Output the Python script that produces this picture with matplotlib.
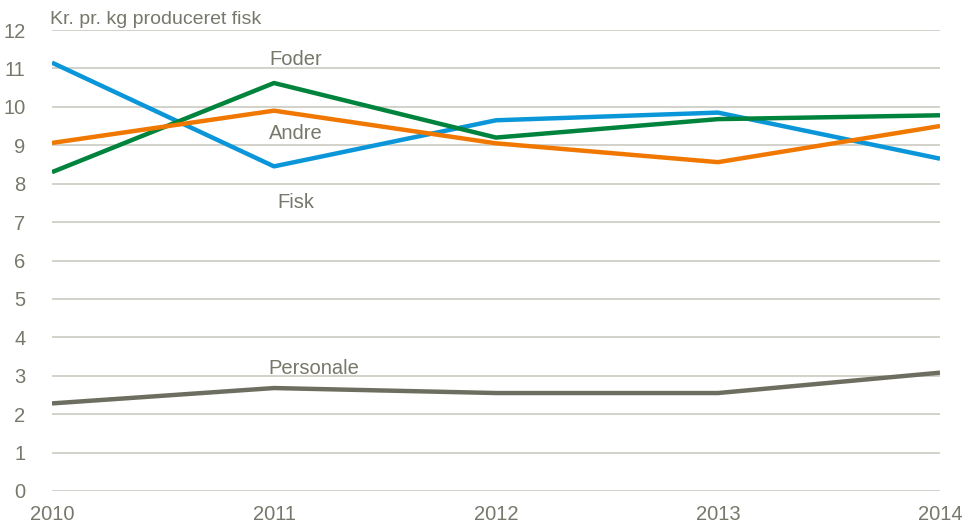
import matplotlib
matplotlib.use("Agg")
import matplotlib.pyplot as plt
from matplotlib import font_manager

years = [2010, 2011, 2012, 2013, 2014]
fisk = [11.15, 8.45, 9.65, 9.85, 8.65]
foder = [8.3, 10.62, 9.2, 9.68, 9.78]
andre = [9.06, 9.9, 9.05, 8.56, 9.5]
personale = [2.28, 2.68, 2.55, 2.55, 3.08]

names = {f.name for f in font_manager.fontManager.ttflist}
fam = ["Liberation Sans Narrow", "Liberation Sans", "DejaVu Sans"]
fam = [f for f in fam if f in names] + ["DejaVu Sans"]
plt.rcParams['font.family'] = fam

txt = "#77776b"
grid = "#cfcfc6"
fs = 14.5

fig = plt.figure(figsize=(9.69, 5.26), dpi=100)
ax = fig.add_axes([52/969, 1-491/526, (940-52)/969, (491-30)/526])

ax.plot(years, fisk, color="#0a96d8", lw=3.2, solid_capstyle="butt", zorder=3)
ax.plot(years, foder, color="#00843d", lw=3.2, solid_capstyle="butt", zorder=3)
ax.plot(years, andre, color="#f07800", lw=3.2, solid_capstyle="butt", zorder=3)
ax.plot(years, personale, color="#6e6e60", lw=3.2, solid_capstyle="butt", zorder=3)

ax.set_xlim(2010, 2014)
ax.set_ylim(0, 12)
ax.set_yticks(range(0, 13))
ax.set_xticks(years)
ax.set_xticklabels([str(y) for y in years])
for y in range(0, 13):
    ax.axhline(y, color=grid, lw=1.3, zorder=1)
for s in ax.spines.values():
    s.set_visible(False)
ax.tick_params(length=0, labelsize=fs, labelcolor=txt)
ax.tick_params(axis='y', pad=19)
ax.tick_params(axis='x', pad=10)
for lab in ax.get_yticklabels():
    lab.set_horizontalalignment('right')

fig.text(50/969, 1-19/526, "Kr. pr. kg produceret fisk", color=txt, fontsize=14,
         ha="left", va="center")

ax.text(2011.1, 11.22, "Foder", color=txt, fontsize=fs, ha="center", va="center")
ax.text(2011.1, 9.3, "Andre", color=txt, fontsize=fs, ha="center", va="center")
ax.text(2011.1, 7.52, "Fisk", color=txt, fontsize=fs, ha="center", va="center")
ax.text(2011.18, 3.2, "Personale", color=txt, fontsize=fs, ha="center", va="center")

fig.savefig("out.png", dpi=100)
